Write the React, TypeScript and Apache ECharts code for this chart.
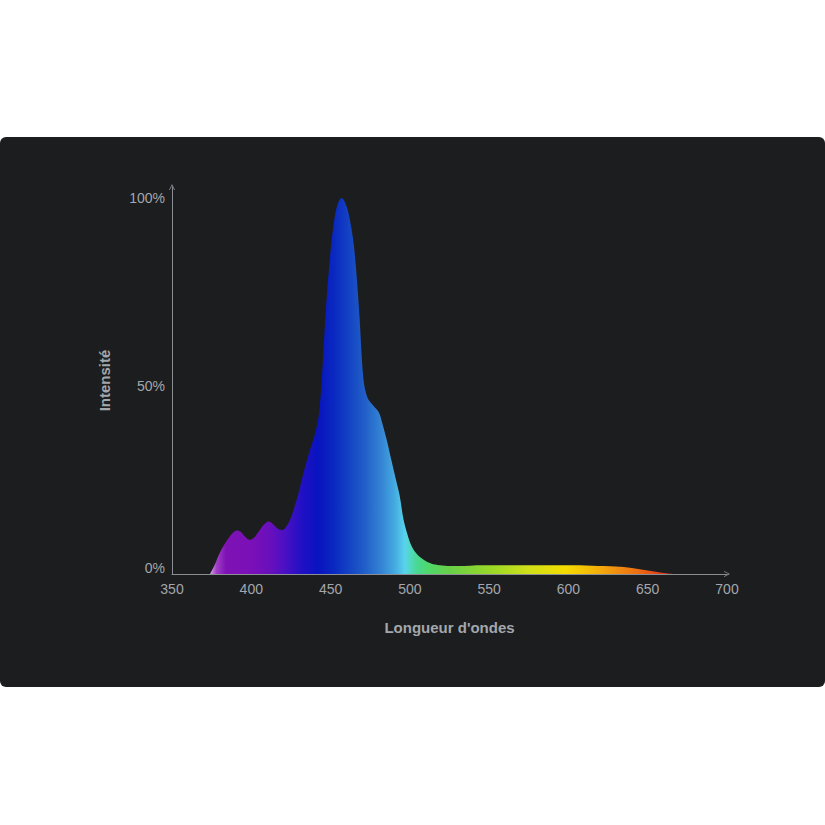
import React, { useEffect, useRef } from 'react';
import * as echarts from 'echarts';

const wavelengths = [
  374, 377, 380, 384, 388, 391, 393.5, 396, 399, 402, 405, 408, 411, 414, 417, 419.5,
  422, 424.5, 427, 429.5, 433, 437, 440, 442.5, 444.5, 447, 450, 452.8, 455, 457, 459,
  461.6, 464.8, 468, 470.7, 473.2, 477, 480.5, 483, 485.8, 488.5, 491, 493.5, 496, 498.5,
  501, 504, 507, 511, 516, 522, 530, 546, 570, 599, 615, 630, 640, 646, 652, 658, 666,
];
const intensity = [
  0, 2.5, 5.5, 8.5, 10.8, 11.6, 11.2, 10, 9.1, 9.8, 11.5, 13.2, 14, 13.2, 12, 11.7,
  12.6, 14.5, 17.5, 21, 27, 33, 37, 42, 52, 70, 86, 95.5, 99, 100, 99,
  95.5, 87, 70, 52, 47, 44.8, 43, 39.5, 35, 30, 25.5, 21, 14.5, 10.5,
  7.5, 5.5, 4.3, 3.2, 2.5, 2.2, 2.1, 2.3, 2.3, 2.3, 2.2, 2.0, 1.6, 1.2, 0.8, 0.4, 0,
];

// spectrum colour stops (wavelength in nm -> colour)
const colorWavelengths = [
  374, 378, 384, 400, 412, 422, 432, 442, 452, 462, 472, 482, 490, 497, 501, 505, 512,
  525, 550, 575, 598, 615, 630, 645, 658, 666,
];
const colorValues = [
  '#e0a0ee', '#a040c8', '#7e12b4', '#7a10b8', '#6810bc', '#4810c4', '#2010c4', '#0814c0',
  '#0a28c0', '#1444c4', '#2260c8', '#3484d4', '#44a8e0', '#58d4ec', '#50d8b8', '#48d890',
  '#50d86a', '#68d048', '#98d828', '#d0e018', '#f4dc00', '#f4b808', '#f09010', '#ec6a14',
  '#e03e1a', '#d42a1a',
];

const yTickLabels = [0, 50, 100];
const xAxisName = "Longueur d'ondes";
const yAxisName = 'Intensité';

export default function App() {
  const ref = useRef<HTMLDivElement>(null);

  useEffect(() => {
    if (!ref.current) return;
    const chart = echarts.init(ref.current, undefined, { renderer: 'svg' });
    const lmin = wavelengths[0];
    const lmax = wavelengths[wavelengths.length - 1];
    const stops = colorWavelengths.map((w, i) => ({
      offset: Math.min(1, Math.max(0, (w - lmin) / (lmax - lmin))),
      color: colorValues[i],
    }));
    const gradient = new echarts.graphic.LinearGradient(0, 0, 1, 0, stops);
    const arrow = 'path://M0,10 L5,0 L10,10 L8.6,10 L5,2.8 L1.4,10 Z';
    const axisColor = '#8b8f94';
    const labelColor = '#a3a7ac';
    const font = '"Liberation Sans", Arial, Helvetica, sans-serif';

    chart.setOption({
      animation: false,
      backgroundColor: '#ffffff',
      graphic: [
        {
          type: 'rect',
          silent: true,
          z: -10,
          shape: { x: 0, y: 137, width: 825, height: 550, r: 6 },
          style: { fill: '#1c1d1f' },
        },
      ],
      grid: { left: 172, right: 98, top: 187, bottom: 251 },
      xAxis: {
        type: 'value',
        min: 350,
        max: 700,
        interval: 50,
        name: xAxisName,
        nameLocation: 'middle',
        nameGap: 46,
        nameTextStyle: { color: labelColor, fontSize: 15, fontWeight: 'bold', fontFamily: font },
        axisLine: {
          show: true,
          symbol: ['none', arrow],
          symbolSize: [7, 6],
          lineStyle: { color: axisColor, width: 1 },
        },
        axisTick: { show: false },
        splitLine: { show: false },
        axisLabel: { color: labelColor, fontSize: 14, margin: 8, fontFamily: font },
      },
      yAxis: {
        type: 'value',
        min: 0,
        max: 103,
        interval: 50,
        name: yAxisName,
        nameLocation: 'middle',
        nameGap: 60,
        nameTextStyle: { color: labelColor, fontSize: 15, fontWeight: 'bold', fontFamily: font },
        axisLine: {
          show: true,
          symbol: ['none', arrow],
          symbolSize: [7, 6],
          lineStyle: { color: axisColor, width: 1 },
        },
        axisTick: { show: false },
        splitLine: { show: false },
        axisLabel: {
          color: labelColor,
          fontSize: 14,
          margin: 7,
          fontFamily: font,
          showMaxLabel: false,
          formatter: (v: number) => {
            if (!yTickLabels.includes(v)) return '';
            if (v === 0) return '{z|0%}';
            return v + '%';
          },
          rich: {
            z: { color: labelColor, fontSize: 14, fontFamily: font, padding: [0, 0, 12, 0] },
          },
        },
      },
      series: [
        {
          type: 'line',
          data: wavelengths.map((w, i) => [w, intensity[i]]),
          smooth: 0.35,
          showSymbol: false,
          symbol: 'none',
          lineStyle: { width: 0, opacity: 0 },
          areaStyle: { color: gradient, opacity: 1 },
          z: 1,
        },
      ],
    });
    return () => chart.dispose();
  }, []);

  return (
    <div
      ref={ref}
      style={{ position: 'absolute', left: 0, top: 0, width: 825, height: 825, background: '#ffffff' }}
    />
  );
}
